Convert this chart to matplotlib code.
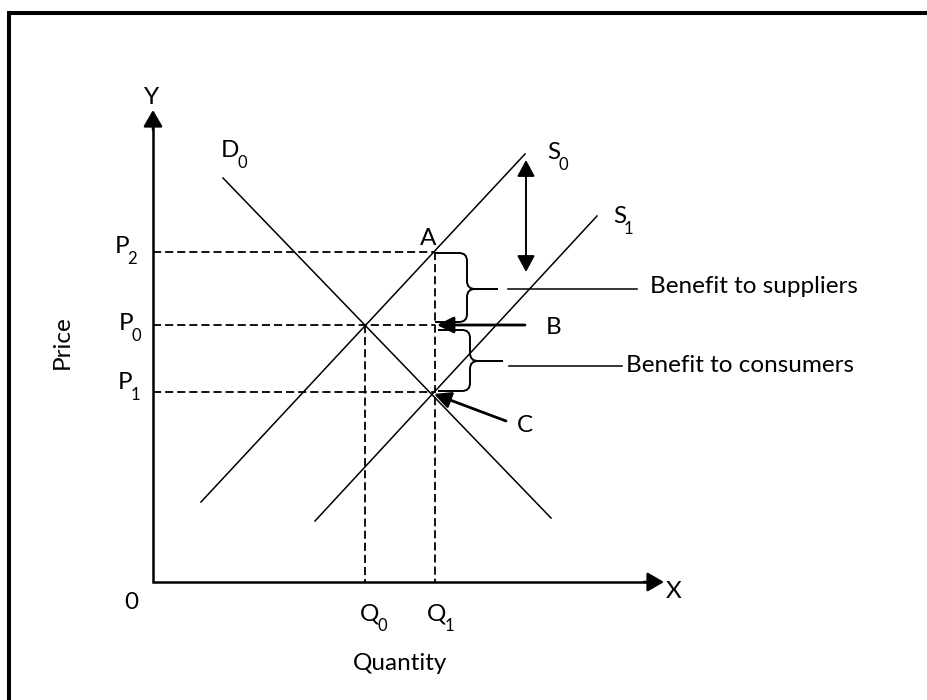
import matplotlib
matplotlib.use('Agg')
import matplotlib.pyplot as plt
from matplotlib.path import Path
from matplotlib.patches import PathPatch

plt.rcParams['font.family'] = ['Lato', 'DejaVu Sans']

# price / quantity levels
q0, q1 = 21.2, 28.2
p1, p0, p2 = 19.0, 25.7, 33.0

# end points of the curves (quantity, price)
d0_q = [7.0, 39.8]
d0_p = [40.4, 6.4]
s0_q = [4.8, 37.2]
s0_p = [8.0, 42.8]
s1_q = [16.2, 44.4]
s1_p = [6.1, 36.6]

# axis lengths
x_max = 51.1
y_max = 47.2

FS = 17.5
SUB_FS = 12
LW = 1.1

fig = plt.figure(figsize=(9.27, 7), dpi=100)
ax = fig.add_axes([0, 0, 1, 1])
ax.set_xlim(-15.3, 77.4)
ax.set_ylim(-11.8, 58.2)
ax.axis('off')

# frame (top and left edges only)
ax.plot([-14.35, -14.35, 80], [-20, 56.95, 56.95], color='black', lw=2.9,
        solid_joinstyle='miter', clip_on=False)

# axes with arrow heads
ax.plot([0, 0, x_max - 1], [y_max - 1, 0, 0], color='black', lw=1.8,
        solid_joinstyle='miter')
head = '-|>,head_length=0.5,head_width=0.29'
ax.annotate('', xy=(0, y_max), xytext=(0, y_max - 2),
            arrowprops=dict(arrowstyle=head, mutation_scale=20, lw=1.8,
                            color='black', shrinkA=0, shrinkB=0))
ax.annotate('', xy=(x_max, 0), xytext=(x_max - 2, 0),
            arrowprops=dict(arrowstyle=head, mutation_scale=20, lw=1.8,
                            color='black', shrinkA=0, shrinkB=0))

# demand and supply curves
ax.plot(d0_q, d0_p, color='black', lw=LW)
ax.plot(s0_q, s0_p, color='black', lw=LW)
ax.plot(s1_q, s1_p, color='black', lw=LW)

# dashed guide lines
dash = dict(color='black', lw=1.3, linestyle=(0, (4.5, 2.2)))
ax.plot([0, q1], [p2, p2], **dash)
ax.plot([0, q1], [p0, p0], **dash)
ax.plot([0, q1], [p1, p1], **dash)
ax.plot([q1, q1], [p2, 0], **dash)
ax.plot([q0, q0], [p0, 0], **dash)


def brace(x0, y_top, y_bot, xs, xt, ym, r=0.8):
    verts = [(x0, y_top), (xs - r, y_top), (xs, y_top), (xs, y_top - r),
             (xs, ym + r), (xs, ym), (xs + r, ym), (xt, ym),
             (xs + r, ym), (xs, ym), (xs, ym - r),
             (xs, y_bot + r), (xs, y_bot), (xs - r, y_bot), (x0, y_bot)]
    codes = [Path.MOVETO, Path.LINETO, Path.CURVE3, Path.CURVE3,
             Path.LINETO, Path.CURVE3, Path.CURVE3, Path.LINETO,
             Path.LINETO, Path.CURVE3, Path.CURVE3,
             Path.LINETO, Path.CURVE3, Path.CURVE3, Path.LINETO]
    ax.add_patch(PathPatch(Path(verts, codes), facecolor='none',
                           edgecolor='black', lw=1.4))


brace(28.2, 32.9, 26.0, 31.4, 34.5, 29.3)
brace(28.5, 25.2, 19.1, 31.7, 35.0, 22.1)

# leader lines to the brace labels
ax.plot([35.5, 48.4], [29.3, 29.3], color='black', lw=LW)
ax.plot([35.6, 46.9], [21.6, 21.6], color='black', lw=LW)

# shift of supply
ax.annotate('', xy=(37.3, 42.2), xytext=(37.3, 31.0),
            arrowprops=dict(arrowstyle='<|-|>,head_length=0.5,head_width=0.27',
                            mutation_scale=20, lw=1.4, color='black',
                            shrinkA=0, shrinkB=0))
# pointers B and C
ax.annotate('', xy=(28.4, p0), xytext=(37.2, p0),
            arrowprops=dict(arrowstyle='-|>,head_length=0.5,head_width=0.25',
                            mutation_scale=20, lw=2.0, color='black',
                            shrinkA=0, shrinkB=0))
ax.annotate('', xy=(28.1, 18.8), xytext=(35.3, 16.1),
            arrowprops=dict(arrowstyle='-|>,head_length=0.5,head_width=0.25',
                            mutation_scale=20, lw=2.0, color='black',
                            shrinkA=0, shrinkB=0))

txt = dict(fontsize=FS, va='baseline')


def label(x, y, main, sub):
    # letter with a dropped subscript after it
    t = ax.text(x, y, main, ha='left', **txt)
    ax.annotate(sub, xy=(1, y), xycoords=(t, 'data'), xytext=(-1.5, -8),
                textcoords='offset points', fontsize=SUB_FS,
                ha='left', va='baseline')


ax.text(-0.1, 47.8, 'Y', ha='center', **txt)
ax.text(52.1, -1.6, 'X', ha='center', **txt)
ax.text(-2.2, -2.7, '0', ha='center', **txt)
label(-3.8, 32.9, 'P', '2')
label(-3.4, 25.2, 'P', '0')
label(-3.5, 19.3, 'P', '1')
label(20.7, -3.8, 'Q', '0')
label(27.4, -3.8, 'Q', '1')
label(6.8, 42.5, 'D', '0')
label(39.4, 42.3, 'S', '0')
label(46.0, 35.9, 'S', '1')
ax.text(26.7, 33.7, 'A', ha='left', **txt)
ax.text(39.3, 24.8, 'B', ha='left', **txt)
ax.text(36.4, 15.0, 'C', ha='left', **txt)
ax.text(49.7, 28.9, 'Benefit to suppliers', ha='left', **txt)
ax.text(47.3, 21.0, 'Benefit to consumers', ha='left', **txt)
ax.text(24.7, -8.8, 'Quantity', ha='center', **txt)
ax.text(-9.1, 24.0, 'Price', ha='center', va='center', rotation=90,
        fontsize=FS)

fig.savefig('out.png', dpi=100)
